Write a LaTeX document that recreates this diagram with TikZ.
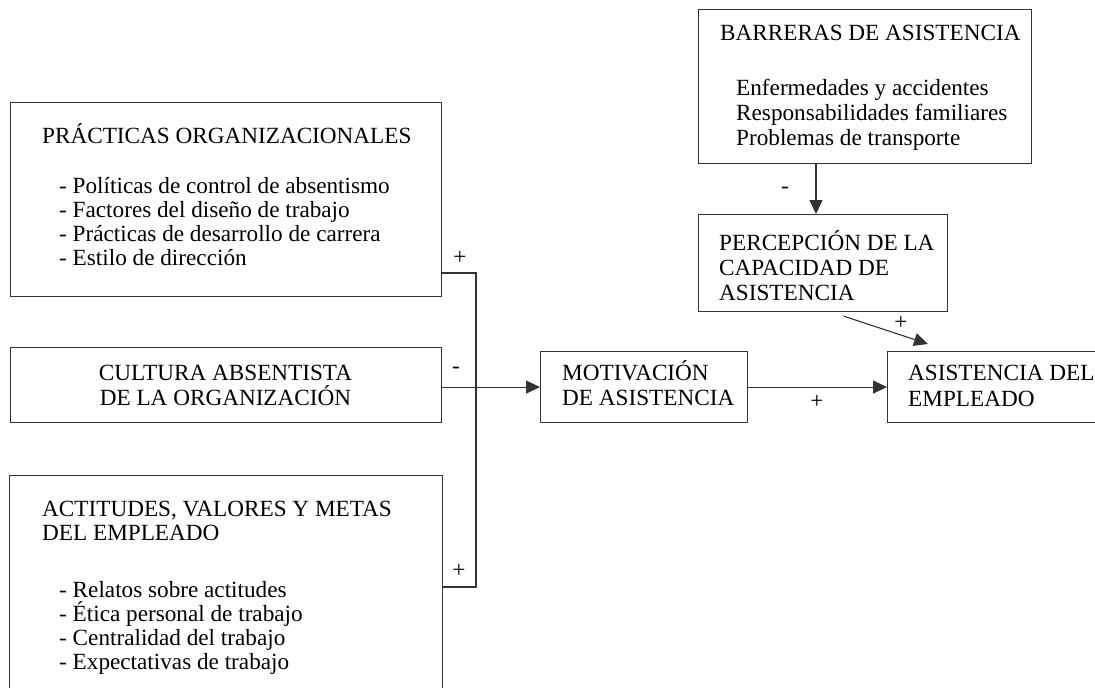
\documentclass[tikz,border=0pt]{standalone}
\usepackage{fontspec}
\setmainfont{Liberation Serif}
\usetikzlibrary{arrows.meta,calc}
\begin{document}
\begin{tikzpicture}[x=1pt,y=-1pt,
  box/.style={draw=black!80, line width=1.1pt, inner sep=0pt, anchor=north west},
  txt/.style={inner sep=0pt, anchor=base west, font=\fontsize{23.2}{#1}\selectfont},
  txt/.default=24.2,
  lbl/.style={inner sep=0pt, font=\fontsize{23.2}{24}\selectfont},
  con/.style={draw=black!80, line width=1.1pt},
  arr/.style={con, -{Triangle[length=14pt,width=13pt]}}]
\clip (0,0) rectangle (1095,688);
\fill[white] (0,0) rectangle (1095,688);
% boxes
\node[box, minimum width=431pt, minimum height=194pt] (b1) at (10,102) {};
\node[box, minimum width=431pt, minimum height=75pt] (b2) at (10,347) {};
\node[box, minimum width=433pt, minimum height=240pt] (b3) at (9,475) {};
\node[box, minimum width=333pt, minimum height=154pt] (bar) at (698,9) {};
\node[box, minimum width=249pt, minimum height=97pt] (per) at (698,214) {};
\node[box, minimum width=207pt, minimum height=71pt] (mot) at (540,351) {};
\node[box, minimum width=220pt, minimum height=71pt] (asi) at (887,351) {};
% texts
\node[txt] (t1) at (42,143) {PRÁCTICAS ORGANIZACIONALES};
\node[txt=24.1] (t1i) at (59,193) {\vtop{\hbox{- Políticas de control de absentismo}\hbox{- Factores del diseño de trabajo}\hbox{- Prácticas de desarrollo de carrera}\hbox{- Estilo de dirección}}};
\node[txt=25, anchor=base] (t2) at (225.5,380) {\vtop{\hbox to 0pt{\hss CULTURA ABSENTISTA\hss}\hbox to 0pt{\hss DE LA ORGANIZACIÓN\hss}}};
\node[txt=24.2] (t3) at (42,516) {\vtop{\hbox{ACTITUDES, VALORES Y METAS}\hbox{DEL EMPLEADO}}};
\node[txt=24] (t3i) at (59,597) {\vtop{\hbox{- Relatos sobre actitudes}\hbox{- Ética personal de trabajo}\hbox{- Centralidad del trabajo}\hbox{- Expectativas de trabajo}}};
\node[txt] (tb) at (720,40.7) {BARRERAS DE ASISTENCIA};
\node[txt=25] (tbi) at (736,95) {\vtop{\hbox{Enfermedades y accidentes}\hbox{Responsabilidades familiares}\hbox{Problemas de transporte}}};
\node[txt=25] (tp) at (719,250) {\vtop{\hbox{PERCEPCIÓN DE LA}\hbox{CAPACIDAD DE}\hbox{ASISTENCIA}}};
\node[txt=25] (tm) at (562,380) {\vtop{\hbox{MOTIVACIÓN}\hbox{DE ASISTENCIA}}};
\node[txt=26] (ta) at (908,380) {\vtop{\hbox{ASISTENCIA DEL}\hbox{EMPLEADO}}};
% labels
\node[lbl] (l1) at (460,258) {+};
\node[lbl] (l2) at (456,370) {-};
\node[lbl] (l3) at (459,571) {+};
\node[lbl] (l4) at (785,190) {-};
\node[lbl] (l5) at (901,323) {+};
\node[lbl] (l6) at (817,402) {+};
% connectors
\coordinate (j1) at (476,273);
\coordinate (j2) at (476,587);
\draw[con] (b1.east |- j1) -- (j1) -- (j2) -- (b3.east |- j2);
\draw[arr] (b2.east |- mot.west) -- (mot.west);
\coordinate (ba) at (816,0);
\draw[arr] (bar.south -| ba) -- (per.north -| ba);
\draw[arr] ($(per.south)+(20.5,4)$) -- ($(asi.north west)+(41,-7)$);
\draw[arr] (mot.east) -- (asi.west |- mot.east);
\end{tikzpicture}
\end{document}
